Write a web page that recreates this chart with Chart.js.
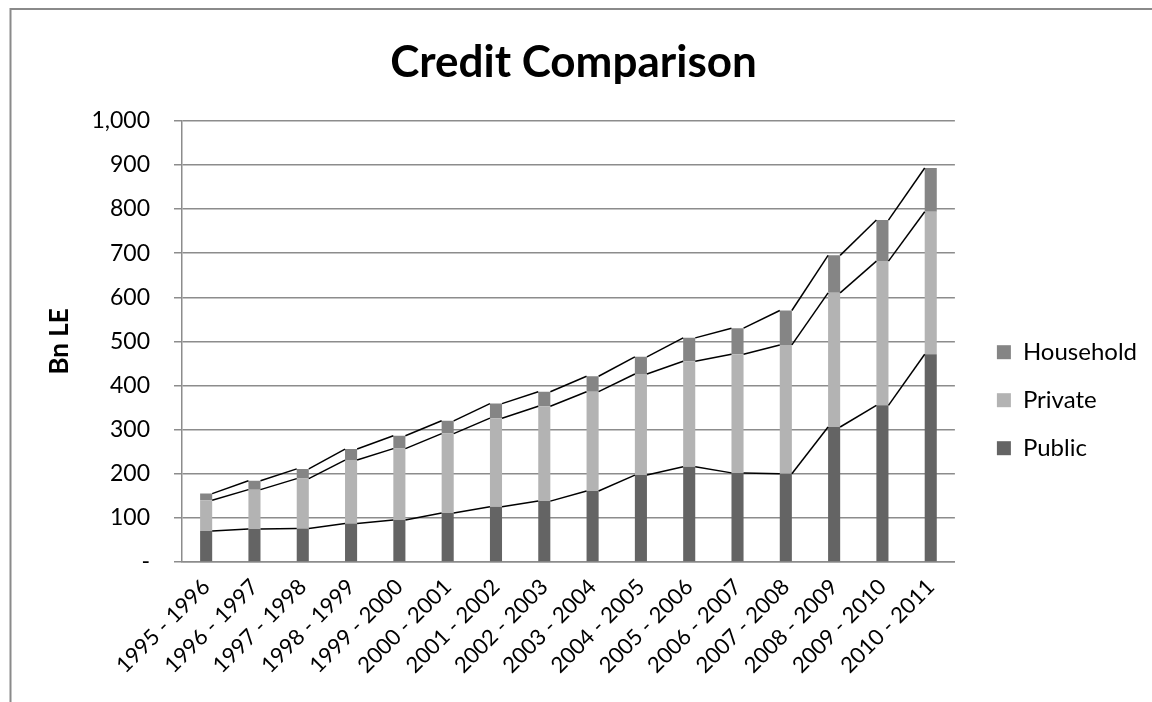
<!DOCTYPE html>
<html>
<head>
<meta charset="utf-8">
<title>Credit Comparison</title>
<script src="https://cdn.jsdelivr.net/npm/chart.js@4/dist/chart.umd.min.js"></script>
<style>
    html, body { margin: 0; padding: 0; background: #ffffff; }
    #wrap { width: 1152px; height: 702px; position: relative; }
</style>
</head>
<body>
<div id="wrap"><canvas id="credit-chart"></canvas></div>
<script>
const years = ['1995 - 1996', '1996 - 1997', '1997 - 1998', '1998 - 1999', '1999 - 2000', '2000 - 2001',
    '2001 - 2002', '2002 - 2003', '2003 - 2004', '2004 - 2005', '2005 - 2006', '2006 - 2007',
    '2007 - 2008', '2008 - 2009', '2009 - 2010', '2010 - 2011'];

// Bn LE
const publicCredit = [70, 75, 76, 87, 95, 111, 125, 138, 161, 197, 216, 202, 200, 306, 355, 471];
const privateCredit = [70, 89, 113, 144, 162, 180, 201, 215, 225, 229, 239, 269, 292, 304, 327, 323];
const householdCredit = [15, 20, 22, 25, 29, 29, 33, 33, 35, 39, 53, 59, 78, 85, 93, 99];

const yMax = 1000;
const yStep = 100;

const font = 'Lato, "Liberation Sans", sans-serif';
const gridGray = '#8c8c8c';

// Excel-style series lines joining the top of each segment to the next bar
const seriesLines = {
    id: 'seriesLines',
    afterDatasetsDraw(chart) {
        const ctx = chart.ctx;
        ctx.save();
        ctx.strokeStyle = '#000000';
        ctx.lineWidth = 1.5;
        chart.data.datasets.forEach((ds, di) => {
            const bars = chart.getDatasetMeta(di).data;
            for (let i = 0; i < bars.length - 1; i++) {
                const a = bars[i];
                const b = bars[i + 1];
                ctx.beginPath();
                ctx.moveTo(a.x + a.width / 2, a.y);
                ctx.lineTo(b.x - b.width / 2, b.y);
                ctx.stroke();
            }
        });
        ctx.restore();
    },
};

const frame = {
    id: 'frame',
    beforeDraw(chart) {
        const ctx = chart.ctx;
        ctx.save();
        ctx.fillStyle = '#ffffff';
        ctx.fillRect(0, 0, chart.width, chart.height);
        ctx.strokeStyle = '#8a8a8a';
        ctx.lineWidth = 2;
        ctx.strokeRect(10.5, 9, chart.width + 20, chart.height + 20);
        ctx.restore();
    },
};

new Chart(document.getElementById('credit-chart'), {
    type: 'bar',
    data: {
        labels: years,
        datasets: [
            { label: 'Public', data: publicCredit, backgroundColor: '#646464' },
            { label: 'Private', data: privateCredit, backgroundColor: '#b3b3b3' },
            { label: 'Household', data: householdCredit, backgroundColor: '#858585' },
        ],
    },
    options: {
        responsive: true,
        maintainAspectRatio: false,
        animation: false,
        datasets: {
            bar: { barPercentage: 0.25, categoryPercentage: 1 },
        },
        layout: { padding: { left: 0, right: 5, top: 0, bottom: 0 } },
        plugins: {
            title: {
                display: true,
                text: 'Credit Comparison',
                color: '#000000',
                font: { family: font, size: 44, weight: 'bold', lineHeight: 1.2 },
                padding: { top: 36, bottom: 32 },
            },
            legend: {
                position: 'right',
                reverse: true,
                title: {
                    display: true,
                    text: ' ',
                    font: { size: 12, lineHeight: 1.2 },
                    padding: 42,
                },
                labels: {
                    color: '#000000',
                    font: { family: font, size: 24 },
                    boxWidth: 14,
                    boxHeight: 14,
                    padding: 24,
                },
            },
            tooltip: { enabled: false },
        },
        scales: {
            x: {
                stacked: true,
                grid: { display: false },
                border: { display: true, color: gridGray, width: 1.5 },
                ticks: {
                    color: '#000000',
                    font: { family: font, size: 22 },
                    maxRotation: 45,
                    minRotation: 45,
                    autoSkip: false,
                    padding: 4,
                },
                afterFit(scale) { scale.height = 140; },
            },
            y: {
                stacked: true,
                min: 0,
                max: yMax,
                grid: { color: gridGray, lineWidth: 1.5, tickLength: 8 },
                border: { display: true, color: gridGray, width: 1.5 },
                ticks: {
                    stepSize: yStep,
                    color: '#000000',
                    font: { family: font, size: 23 },
                    padding: 24,
                    callback: (v) => (v === 0 ? '-' : v.toLocaleString('en-US')),
                },
                title: {
                    display: true,
                    text: 'Bn LE',
                    color: '#000000',
                    font: { family: font, size: 26, weight: 'bold', lineHeight: 1.2 },
                    padding: { top: 44, bottom: 0 },
                },
                afterFit(scale) { scale.width = 182; },
            },
            // empty gap between the plot and the legend
            gap: {
                position: 'right',
                display: true,
                grid: { display: false },
                border: { display: false },
                ticks: { display: false },
                afterFit(scale) { scale.width = 18; },
            },
        },
    },
    plugins: [frame, seriesLines],
});
</script>
</body>
</html>
